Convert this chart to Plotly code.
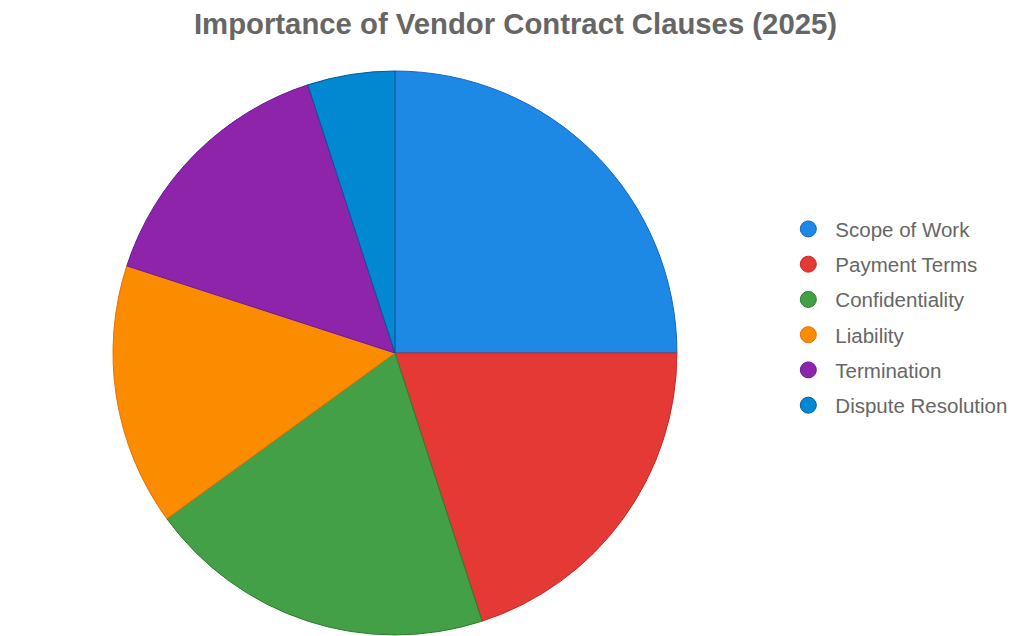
import plotly.graph_objects as go

# clause importance shares (%)
clauses = ['Scope of Work', 'Payment Terms', 'Confidentiality', 'Liability', 'Termination', 'Dispute Resolution']
shares = [25, 20, 20, 15, 15, 5]

colors = ['#1E88E5', '#E53935', '#43A047', '#FB8C00', '#8E24AA', '#0288D1']
edges = ['#1565C0', '#C62828', '#2E7D32', '#EF6C00', '#6A1B9A', '#01579B']

fig = go.Figure()
fig.add_trace(go.Pie(
  labels=clauses, values=shares,
  sort=False, direction='clockwise', rotation=0,
  marker=dict(colors=colors, line=dict(color=edges, width=1)),
  textinfo='none', hoverinfo='label+percent',
  showlegend=False,
  domain=dict(x=[0.1025, 0.6533], y=[0.0142, 0.9009]),
))

# round legend markers (pie legend draws squares)
for name, c, e in zip(clauses, colors, edges):
  fig.add_trace(go.Scatter(
    x=[None], y=[None], mode='markers', name=name, legendgroup=name,
    marker=dict(symbol='circle', size=16, color=c, line=dict(color=e, width=1)),
  ))

fig.update_layout(
  width=1024, height=636,
  margin=dict(l=0, r=0, t=0, b=0),
  paper_bgcolor='white', plot_bgcolor='white',
  font=dict(family='Liberation Sans, Arial, sans-serif', color='#666666'),
  title=dict(text='<b>Importance of Vendor Contract Clauses (2025)</b>',
             x=0.4956, xanchor='center', y=0.9755, yanchor='middle',
             font=dict(size=29.3, color='#666666')),
  xaxis=dict(visible=False), yaxis=dict(visible=False),
  legend=dict(x=0.7552, xanchor='left', y=0.514, yanchor='middle',
              font=dict(size=20.5, color='#666666'),
              itemsizing='trace', itemwidth=44, tracegroupgap=5.6,
              bgcolor='rgba(0,0,0,0)'),
)

fig.write_html('out.html')
